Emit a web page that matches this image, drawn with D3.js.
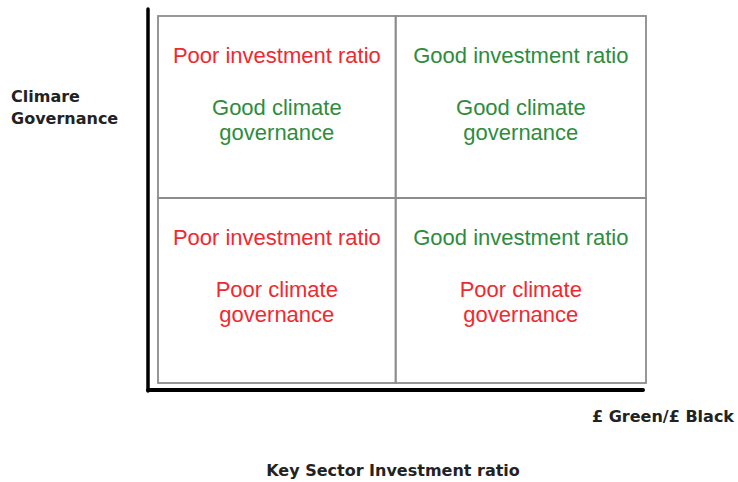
<!DOCTYPE html>
<html>
<head>
<meta charset="utf-8">
<script src="https://cdn.jsdelivr.net/npm/d3@7"></script>
<style>
  html, body { margin: 0; padding: 0; background: #fff; }
  svg { display: block; }
</style>
</head>
<body>
<div id="chart"></div>
<script>
// quadrant categories
const investmentLevels = ['Poor', 'Good'];          // left -> right
const governanceLevels = ['Good', 'Poor'];          // top -> bottom
const investmentLabel = level => `${level} investment ratio`;
const governanceLines = level => [`${level} climate`, 'governance'];

// axis titles
const yTitle = ['Climare', 'Governance'];
const xTitle = '£ Green/£ Black';
const xCaption = 'Key Sector Investment ratio';

const width = 738;
const height = 482;

const colors = { Good: '#2e8c3d', Poor: '#ee2a30' };

const svg = d3.select('#chart')
  .append('svg')
  .attr('width', width)
  .attr('height', height);

// grid scales (break where the original divides its quadrants)
const ratioBreak = 0.487;
const governanceBreak = 0.504;
const x = d3.scaleLinear().domain([0, 1]).range([158, 646]);
const y = d3.scaleLinear().domain([1, 0]).range([16, 383]);

const xEdges = [x(0), x(ratioBreak), x(1)];
const yEdges = [y(1), y(governanceBreak), y(0)];

const cells = [];
governanceLevels.forEach((g, row) => {
  investmentLevels.forEach((inv, col) => {
    cells.push({ inv, g, x0: xEdges[col], x1: xEdges[col + 1], y0: yEdges[row], y1: yEdges[row + 1] });
  });
});

// cell borders
svg.append('g')
  .selectAll('rect')
  .data(cells)
  .enter()
  .append('rect')
  .attr('x', d => d.x0)
  .attr('y', d => d.y0)
  .attr('width', d => d.x1 - d.x0)
  .attr('height', d => d.y1 - d.y0)
  .attr('fill', 'none')
  .attr('stroke', '#8c8c8c')
  .attr('stroke-width', 1.8);

// cell texts
const cellText = svg.append('g')
  .attr('font-family', '"Liberation Sans", Arial, sans-serif')
  .attr('font-size', 22)
  .attr('text-anchor', 'middle')
  .selectAll('g')
  .data(cells)
  .enter()
  .append('g')
  .attr('transform', d => `translate(${(d.x0 + d.x1) / 2}, ${d.y0})`);

cellText.append('text')
  .attr('y', 46.5)
  .attr('fill', d => colors[d.inv])
  .text(d => investmentLabel(d.inv));

cellText.append('text')
  .attr('fill', d => colors[d.g])
  .selectAll('tspan')
  .data(d => governanceLines(d.g))
  .enter()
  .append('tspan')
  .attr('x', 0)
  .attr('y', (d, i) => 98.5 + i * 25)
  .text(d => d);

// axes
svg.append('line')
  .attr('x1', 148).attr('y1', 9)
  .attr('x2', 148).attr('y2', 391)
  .attr('stroke', '#000')
  .attr('stroke-width', 3.5)
  .attr('stroke-linecap', 'round');

svg.append('line')
  .attr('x1', 148).attr('y1', 390)
  .attr('x2', 643).attr('y2', 390)
  .attr('stroke', '#000')
  .attr('stroke-width', 4)
  .attr('stroke-linecap', 'round');

// titles
const titles = svg.append('g')
  .attr('font-family', '"DejaVu Sans", Verdana, sans-serif')
  .attr('font-weight', 'bold')
  .attr('font-size', 16)
  .attr('fill', '#222');

titles.append('text')
  .selectAll('tspan')
  .data(yTitle)
  .enter()
  .append('tspan')
  .attr('x', 11)
  .attr('y', (d, i) => 101.5 + i * 22)
  .text(d => d);

titles.append('text')
  .attr('x', 734)
  .attr('y', 422)
  .attr('text-anchor', 'end')
  .text(xTitle);

titles.append('text')
  .attr('x', 393)
  .attr('y', 476)
  .attr('text-anchor', 'middle')
  .text(xCaption);
</script>
</body>
</html>
